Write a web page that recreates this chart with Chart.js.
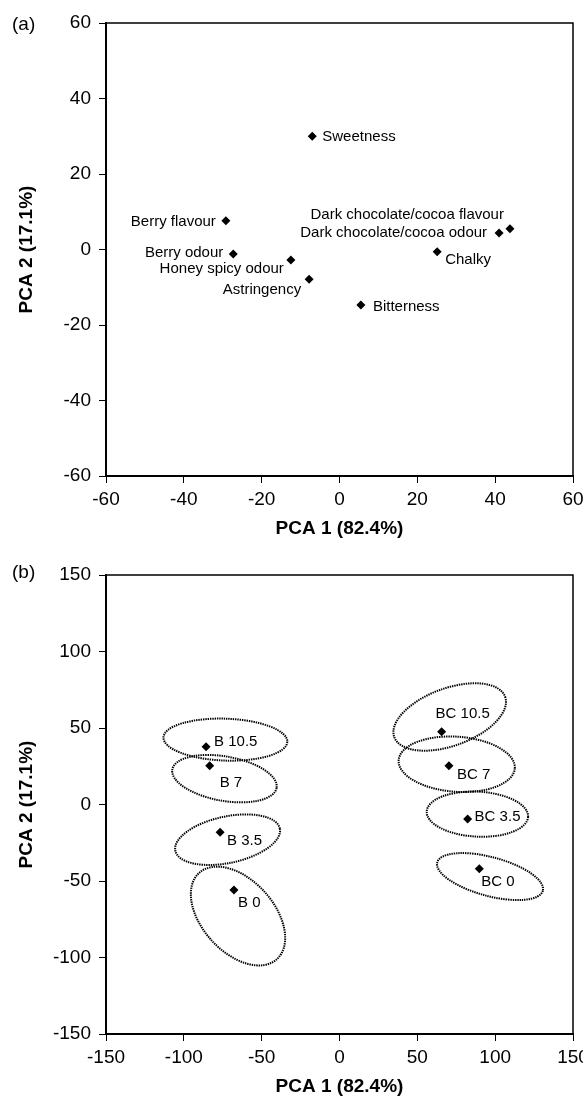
<!DOCTYPE html>
<html>
<head>
<meta charset="utf-8">
<script src="https://cdn.jsdelivr.net/npm/chart.js@4.4.1/dist/chart.umd.min.js"></script>
<style>
  html, body { margin: 0; padding: 0; background: #fff; }
  canvas { display: block; }
</style>
</head>
<body>
<canvas id="loadingsChart" width="583" height="548"></canvas>
<canvas id="scoresChart" width="583" height="548"></canvas>
<script>
// (a) sensory attribute loadings
const attrNames = ['Sweetness', 'Berry flavour', 'Berry odour', 'Honey spicy odour', 'Astringency',
                   'Dark chocolate/cocoa flavour', 'Dark chocolate/cocoa odour', 'Chalky', 'Bitterness'];
const attrPca1  = [-7.0, -29.2, -27.3, -12.5, -7.8, 43.8, 41.0, 25.1, 5.5];
const attrPca2  = [30.0, 7.6, -1.2, -2.8, -7.9, 5.5, 4.4, -0.6, -14.7];

// (b) sample scores
const sampleNames = ['B 0', 'B 3.5', 'B 7', 'B 10.5', 'BC 0', 'BC 3.5', 'BC 7', 'BC 10.5'];
const samplePca1  = [-67.8, -76.7, -83.4, -85.7, 89.8, 82.3, 70.3, 65.6];
const samplePca2  = [-55.9, -18.2, 25.4, 37.8, -42.0, -9.5, 25.4, 47.6];

// confidence ellipses around each sample (PCA units, tilt in degrees)
const ellipseCx    = [-65.2, -71.9, -73.9, -73.3, 96.7, 88.6, 75.3, 70.8];
const ellipseCy    = [-72.9, -23.0, 16.9, 42.4, -47.1, -6.3, 26.3, 57.2];
const ellipseRx    = [37.3, 34.3, 34.0, 39.8, 35.1, 32.6, 37.4, 37.9];
const ellipseRy    = [23.5, 15.2, 14.5, 13.7, 12.7, 14.7, 18.0, 18.8];
const ellipseTilt  = [48, -12, 10, 2, 15, 3, 4, -20];

const axis1Title = 'PCA 1 (82.4%)';
const axis2Title = 'PCA 2 (17.1%)';

// label placement: [dx, dy, align]
const attrLabelPos = [[10, 1, 'left'], [-10, 1, 'right'], [-10, -1, 'right'], [-7, 9, 'right'], [-8, 11, 'right'],
                      [-6, -14, 'right'], [-12, 0, 'right'], [8, 8, 'left'], [12, 2, 'left']];
const sampleLabelPos = [[4, 13, 'left'], [7, 9, 'left'], [10, 17, 'left'], [8, -5, 'left'],
                        [2, 13, 'left'], [7, -2, 'left'], [8, 9, 'left'], [-6, -18, 'left']];

const FONT = 'Arial, "Liberation Sans", Helvetica, sans-serif';

const frameBox = {
  id: 'frameBox',
  afterDraw(chart) {
    const { ctx, chartArea: a } = chart;
    ctx.save();
    ctx.strokeStyle = '#000';
    ctx.lineWidth = 1.5;
    ctx.strokeRect(a.left, a.top, a.right - a.left, a.bottom - a.top);
    ctx.restore();
  },
};

const panelTag = {
  id: 'panelTag',
  afterDraw(chart, args, opts) {
    const ctx = chart.ctx;
    ctx.save();
    ctx.fillStyle = '#000';
    ctx.font = '19px ' + FONT;
    ctx.textBaseline = 'middle';
    ctx.fillText(opts.text, 12, 25);
    ctx.restore();
  },
};

const pointLabels = {
  id: 'pointLabels',
  afterDatasetsDraw(chart, args, opts) {
    const ctx = chart.ctx;
    const meta = chart.getDatasetMeta(0);
    ctx.save();
    ctx.fillStyle = '#000';
    ctx.font = '15px ' + FONT;
    ctx.textBaseline = 'middle';
    meta.data.forEach((pt, i) => {
      const [dx, dy, align] = opts.pos[i];
      ctx.textAlign = align;
      ctx.fillText(opts.names[i], pt.x + dx, pt.y + dy);
    });
    ctx.restore();
  },
};

const ellipses = {
  id: 'ellipses',
  beforeDatasetsDraw(chart, args, opts) {
    if (!opts.cx) return;
    const { ctx, scales: { x, y } } = chart;
    ctx.save();
    ctx.strokeStyle = '#000';
    ctx.lineWidth = 2;
    ctx.setLineDash([1.4, 0.9]);
    opts.cx.forEach((cx, i) => {
      const px = x.getPixelForValue(cx);
      const py = y.getPixelForValue(opts.cy[i]);
      const rx = Math.abs(x.getPixelForValue(cx + opts.rx[i]) - px);
      const ry = Math.abs(y.getPixelForValue(opts.cy[i] + opts.ry[i]) - py);
      ctx.beginPath();
      ctx.ellipse(px, py, rx, ry, opts.tilt[i] * Math.PI / 180, 0, Math.PI * 2);
      ctx.stroke();
    });
    ctx.restore();
  },
};

function scaleOpts(min, max, step, title, axis) {
  return {
    type: 'linear', min, max,
    ticks: { stepSize: step, color: '#000', autoSkip: false, maxRotation: 0,
             font: { family: FONT, size: 19 }, padding: axis === 'x' ? 5 : 8 },
    grid: { drawOnChartArea: false, drawTicks: true, tickLength: 7, color: '#000', lineWidth: 1 },
    border: { display: true, color: '#000', width: 2 },
    title: { display: true, text: title, color: '#000',
             font: { family: FONT, size: 19, weight: 'bold', lineHeight: 1 },
             padding: axis === 'x' ? { top: 0, bottom: 0 } : { top: 17, bottom: 0 } },
    afterFit: s => {
      if (axis === 'x') s.height = 62; else s.width = 106;
      s.paddingLeft = 0;
      s.paddingRight = 0;
    },
  };
}

function makeChart(id, xs, ys, limit, step, names, pos, tag, padTop, padBottom, ell) {
  return new Chart(document.getElementById(id), {
    type: 'scatter',
    data: {
      datasets: [{
        data: xs.map((v, i) => ({ x: v, y: ys[i] })),
        pointStyle: 'rectRot', radius: 4.5, backgroundColor: '#000', borderColor: '#000', borderWidth: 0,
      }],
    },
    options: {
      responsive: false, animation: false,
      layout: { padding: { top: padTop, right: 10, bottom: padBottom, left: 0 } },
      plugins: {
        legend: { display: false }, tooltip: { enabled: false },
        panelTag: { text: tag },
        pointLabels: { names, pos },
        ellipses: ell || {},
      },
      scales: {
        x: scaleOpts(-limit, limit, step, axis1Title, 'x'),
        y: scaleOpts(-limit, limit, step, axis2Title, 'y'),
      },
    },
    plugins: [ellipses, pointLabels, frameBox, panelTag],
  });
}

makeChart('loadingsChart', attrPca1, attrPca2, 60, 20, attrNames, attrLabelPos, '(a)', 23, 10);
makeChart('scoresChart', samplePca1, samplePca2, 150, 50, sampleNames, sampleLabelPos, '(b)', 27, 0,
  { cx: ellipseCx, cy: ellipseCy, rx: ellipseRx, ry: ellipseRy, tilt: ellipseTilt });
</script>
</body>
</html>
